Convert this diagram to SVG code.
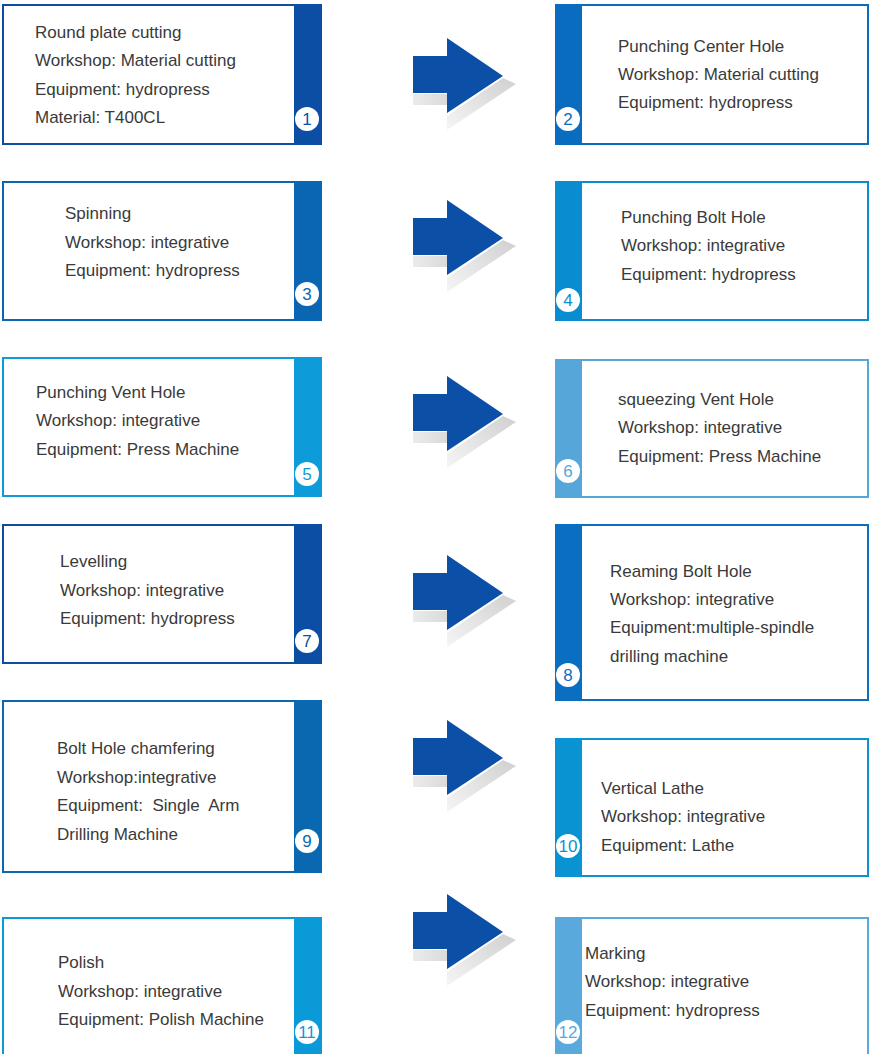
<svg xmlns="http://www.w3.org/2000/svg" width="869" height="1054" viewBox="0 0 869 1054">
<defs>
<linearGradient id="shB" x1="0" y1="0" x2="1" y2="0"><stop offset="0" stop-color="#ebebeb"/><stop offset="1" stop-color="#dadada"/></linearGradient>
<linearGradient id="shH" x1="1" y1="0" x2="0" y2="1"><stop offset="0" stop-color="#d0d0d0"/><stop offset="1" stop-color="#f5f5f5"/></linearGradient>
<g id="arrow">
<rect x="0" y="56" width="34" height="11" fill="url(#shB)"/>
<polygon points="90,40 103,46 34,92 34,78" fill="url(#shH)"/>
<polygon points="0,18 34,18 34,0 90,38 34,75 34,55 0,55" fill="#0c4fa6"/>
</g>
</defs>
<style>
.t{font-family:"Liberation Sans",Arial,sans-serif;font-size:17px;fill:#3a3a3a}
.n{font-family:"Liberation Sans",Arial,sans-serif;font-size:17px;text-anchor:middle}
.box{fill:#fff;stroke-width:2}
</style>
<rect width="869" height="1054" fill="#fff"/>
<g id="connectors">
<use href="#arrow" x="413" y="38"/>
<use href="#arrow" x="413" y="200"/>
<use href="#arrow" x="413" y="376"/>
<use href="#arrow" x="413" y="555"/>
<use href="#arrow" x="413" y="720"/>
<use href="#arrow" x="413" y="894"/>
</g>
<g id="n1">
<rect class="box" x="3" y="5" width="318" height="139" stroke="#0c4ea4"/>
<rect x="294" y="4" width="28" height="141" fill="#0c4ea4"/>
<circle cx="307" cy="119" r="12" fill="#fff"/>
<text class="n" x="307" y="125" fill="#0c4ea4">1</text>
<text class="t" x="35" y="38">Round plate cutting</text>
<text class="t" x="35" y="66">Workshop: Material cutting</text>
<text class="t" x="35" y="95">Equipment: hydropress</text>
<text class="t" x="35" y="123">Material: T400CL</text>
</g>
<g id="n2">
<rect class="box" x="556" y="5" width="312" height="139" stroke="#0a6cbf"/>
<rect x="555" y="4" width="27" height="141" fill="#0a6cbf"/>
<circle cx="568" cy="119" r="12" fill="#fff"/>
<text class="n" x="568" y="125" fill="#0a6cbf">2</text>
<text class="t" x="618" y="52">Punching Center Hole</text>
<text class="t" x="618" y="80">Workshop: Material cutting</text>
<text class="t" x="618" y="108">Equipment: hydropress</text>
</g>
<g id="n3">
<rect class="box" x="3" y="182" width="318" height="138" stroke="#0a66b3"/>
<rect x="294" y="181" width="28" height="140" fill="#0a66b3"/>
<circle cx="307" cy="294" r="12" fill="#fff"/>
<text class="n" x="307" y="300" fill="#0a66b3">3</text>
<text class="t" x="65" y="219">Spinning</text>
<text class="t" x="65" y="248">Workshop: integrative</text>
<text class="t" x="65" y="276">Equipment: hydropress</text>
</g>
<g id="n4">
<rect class="box" x="556" y="182" width="312" height="138" stroke="#0a8dd0"/>
<rect x="555" y="181" width="27" height="140" fill="#0a8dd0"/>
<circle cx="568" cy="300" r="12" fill="#fff"/>
<text class="n" x="568" y="306" fill="#0a8dd0">4</text>
<text class="t" x="621" y="223">Punching Bolt Hole</text>
<text class="t" x="621" y="251">Workshop: integrative</text>
<text class="t" x="621" y="280">Equipment: hydropress</text>
</g>
<g id="n5">
<rect class="box" x="3" y="358" width="318" height="138" stroke="#0d9bd9"/>
<rect x="294" y="357" width="28" height="140" fill="#0d9bd9"/>
<circle cx="307" cy="474" r="12" fill="#fff"/>
<text class="n" x="307" y="480" fill="#0d9bd9">5</text>
<text class="t" x="36" y="398">Punching Vent Hole</text>
<text class="t" x="36" y="426">Workshop: integrative</text>
<text class="t" x="36" y="455">Equipment: Press Machine</text>
</g>
<g id="n6">
<rect class="box" x="556" y="360" width="312" height="137" stroke="#57a6d9"/>
<rect x="555" y="359" width="27" height="139" fill="#57a6d9"/>
<circle cx="568" cy="471" r="12" fill="#fff"/>
<text class="n" x="568" y="477" fill="#57a6d9">6</text>
<text class="t" x="618" y="405">squeezing Vent Hole</text>
<text class="t" x="618" y="433">Workshop: integrative</text>
<text class="t" x="618" y="462">Equipment: Press Machine</text>
</g>
<g id="n7">
<rect class="box" x="3" y="525" width="318" height="138" stroke="#0c4ea4"/>
<rect x="294" y="524" width="28" height="140" fill="#0c4ea4"/>
<circle cx="307" cy="641" r="12" fill="#fff"/>
<text class="n" x="307" y="647" fill="#0c4ea4">7</text>
<text class="t" x="60" y="567">Levelling</text>
<text class="t" x="60" y="596">Workshop: integrative</text>
<text class="t" x="60" y="624">Equipment: hydropress</text>
</g>
<g id="n8">
<rect class="box" x="556" y="525" width="312" height="175" stroke="#0a6fc1"/>
<rect x="555" y="524" width="27" height="177" fill="#0a6fc1"/>
<circle cx="568" cy="675" r="12" fill="#fff"/>
<text class="n" x="568" y="681" fill="#0a6fc1">8</text>
<text class="t" x="610" y="577">Reaming Bolt Hole</text>
<text class="t" x="610" y="605">Workshop: integrative</text>
<text class="t" x="610" y="633">Equipment:multiple-spindle</text>
<text class="t" x="610" y="662">drilling machine</text>
</g>
<g id="n9">
<rect class="box" x="3" y="701" width="318" height="171" stroke="#0a68b1"/>
<rect x="294" y="700" width="28" height="173" fill="#0a68b1"/>
<circle cx="307" cy="841" r="12" fill="#fff"/>
<text class="n" x="307" y="847" fill="#0a68b1">9</text>
<text class="t" x="57" y="754">Bolt Hole chamfering</text>
<text class="t" x="57" y="783">Workshop:integrative</text>
<text class="t" x="57" y="811" xml:space="preserve">Equipment:  Single  Arm</text>
<text class="t" x="57" y="840">Drilling Machine</text>
</g>
<g id="n10">
<rect class="box" x="556" y="739" width="312" height="137" stroke="#0a93d3"/>
<rect x="555" y="738" width="27" height="139" fill="#0a93d3"/>
<circle cx="568" cy="846" r="12" fill="#fff"/>
<text class="n" x="568" y="852" fill="#0a93d3">10</text>
<text class="t" x="601" y="794">Vertical Lathe</text>
<text class="t" x="601" y="822">Workshop: integrative</text>
<text class="t" x="601" y="851">Equipment: Lathe</text>
</g>
<g id="n11">
<rect class="box" x="3" y="918" width="318" height="150" stroke="#0a9ad8"/>
<rect x="294" y="917" width="28" height="150" fill="#0a9ad8"/>
<circle cx="307" cy="1032" r="12" fill="#fff"/>
<text class="n" x="307" y="1038" fill="#0a9ad8">11</text>
<text class="t" x="58" y="968">Polish</text>
<text class="t" x="58" y="997">Workshop: integrative</text>
<text class="t" x="58" y="1025">Equipment: Polish Machine</text>
</g>
<g id="n12">
<rect class="box" x="556" y="918" width="312" height="150" stroke="#5aa9dc"/>
<rect x="555" y="917" width="27" height="150" fill="#5aa9dc"/>
<circle cx="568" cy="1032" r="12" fill="#fff"/>
<text class="n" x="568" y="1038" fill="#5aa9dc">12</text>
<text class="t" x="585" y="959">Marking</text>
<text class="t" x="585" y="987">Workshop: integrative</text>
<text class="t" x="585" y="1016">Equipment: hydropress</text>
</g>
</svg>
